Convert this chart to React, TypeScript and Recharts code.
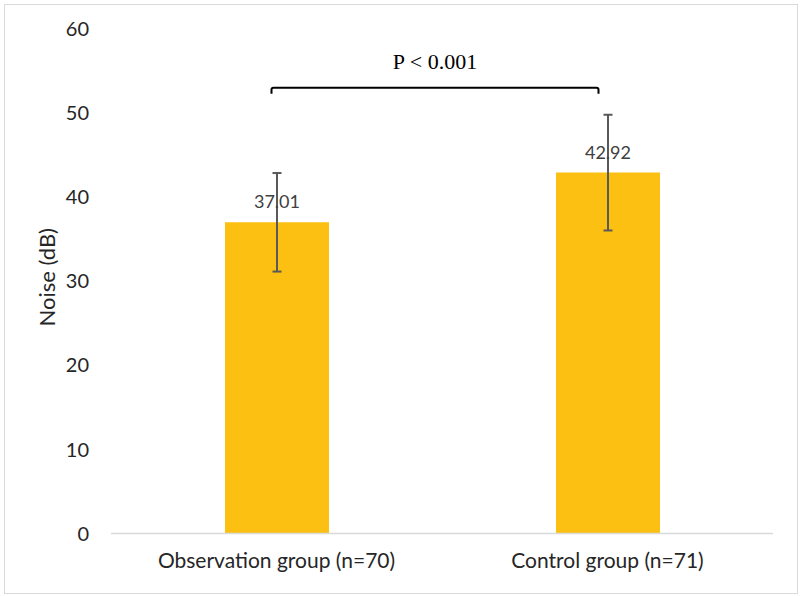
import React from 'react';
import { BarChart, Bar, XAxis, YAxis, ErrorBar, LabelList, ReferenceLine } from 'recharts';

const categories = ['Observation group (n=70)', 'Control group (n=71)'];
const means = [37.01, 42.92];
const errors = [5.86, 6.88];
const yTicks = [0, 10, 20, 30, 40, 50, 60];
const bracketY = 53;
const pLabel = 'P < 0.001';

const data = categories.map((name, i) => ({ name, value: means[i], err: errors[i] }));

const FONT = 'Lato, "Open Sans", sans-serif';

const Bracket = (props: any) => {
  const x1 = props.x1 - 5;
  const x2 = props.x2 - 9;
  const y1 = props.y1;
  const d = 6;
  const r = 2;
  const path = `M ${x1} ${y1 + d} L ${x1} ${y1 + r} Q ${x1} ${y1} ${x1 + r} ${y1} L ${x2 - r} ${y1} Q ${x2} ${y1} ${x2} ${y1 + r} L ${x2} ${y1 + d}`;
  return <path d={path} fill="none" stroke="#000" strokeWidth={2} />;
};

export default function App() {
  return (
    <div style={{ position: 'absolute', left: 0, top: 0, width: 800, height: 596, background: '#fff' }}>
      <div
        style={{
          position: 'absolute',
          left: 4,
          top: 4,
          width: 792,
          height: 588,
          border: '1px solid #d9d9d9',
        }}
      />
      <div style={{ position: 'absolute', left: 0, top: 0 }}>
        <BarChart
          width={800}
          height={596}
          data={data}
          margin={{ top: 29, right: 27, bottom: 32.5, left: 0 }}
        >
          <XAxis
            dataKey="name"
            height={30}
            axisLine={{ stroke: '#d9d9d9', strokeWidth: 1.5 }}
            tickLine={false}
            tickSize={0}
            tickMargin={20}
            tick={{ fill: '#262626', fontSize: 21, fontFamily: FONT }}
          />
          <YAxis
            width={111}
            domain={[0, 60]}
            ticks={yTicks}
            axisLine={false}
            tickLine={false}
            tickSize={0}
            tickMargin={22}
            tick={{ fill: '#262626', fontSize: 20, fontFamily: FONT }}
            label={{
              value: 'Noise (dB)',
              angle: -90,
              position: 'insideLeft',
              offset: 47,
              dy: -4,
              style: { textAnchor: 'middle', fill: '#262626', fontSize: 22, fontFamily: FONT },
            }}
          />
          <Bar dataKey="value" fill="#FCC012" barSize={104} isAnimationActive={false}>
            <ErrorBar dataKey="err" width={4.5} stroke="#595959" strokeWidth={2} direction="y" />
            <LabelList
              dataKey="value"
              position="top"
              offset={14}
              formatter={(v: any) => Number(v).toFixed(2)}
              style={{ fill: '#404040', fontSize: 18, fontFamily: FONT }}
            />
          </Bar>
          <ReferenceLine
            segment={[
              { x: categories[0], y: bracketY },
              { x: categories[1], y: bracketY },
            ]}
            shape={<Bracket />}
            label={{
              value: pLabel,
              position: 'top',
              offset: 19,
              dx: -7,
              style: { fill: '#000', fontSize: 22, fontFamily: '"Liberation Serif", "Times New Roman", serif' },
            }}
          />
        </BarChart>
      </div>
    </div>
  );
}
